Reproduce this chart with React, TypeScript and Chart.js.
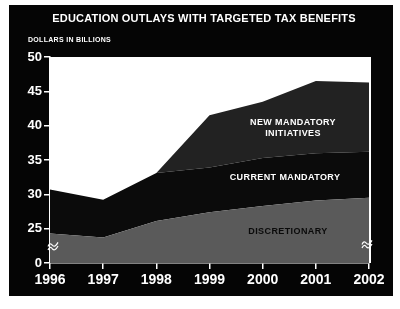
import React, { useEffect, useRef } from "react";
import Chart from "chart.js/auto";

const years = ["1996", "1997", "1998", "1999", "2000", "2001", "2002"];
const discretionary = [24.3, 23.7, 26.1, 27.4, 28.3, 29.1, 29.5];
const currentMandatory = [6.4, 5.5, 7.0, 6.5, 7.0, 6.9, 6.7];
const newMandatory = [0, 0, 0, 7.6, 8.2, 10.5, 10.1];
const yTickValues = [20, 25, 30, 35, 40, 45, 50];
const yTickLabels = ["0", "25", "30", "35", "40", "45", "50"];

const TITLE = "EDUCATION OUTLAYS WITH TARGETED TAX BENEFITS";
const SUBTITLE = "DOLLARS IN BILLIONS";
const FONT = "'Liberation Sans', Arial, Helvetica, sans-serif";

const framePlugin = {
  id: "frame",
  beforeDraw(chart: any) {
    const { ctx, chartArea } = chart;
    ctx.save();
    ctx.fillStyle = "#ffffff";
    ctx.fillRect(0, 0, chart.width, chart.height);
    ctx.fillStyle = "#050505";
    ctx.fillRect(9, 5, 384, 291);
    ctx.fillStyle = "#ffffff";
    ctx.fillRect(chartArea.left, chartArea.top, chartArea.right - chartArea.left + 2, chartArea.bottom - chartArea.top);
    ctx.restore();
  },
  afterDraw(chart: any) {
    const { ctx, chartArea } = chart;
    ctx.save();
    ctx.fillStyle = "#ffffff";
    ctx.textAlign = "center";
    ctx.textBaseline = "middle";
    ctx.font = `bold 11px ${FONT}`;
    (ctx as any).letterSpacing = "0.2px";
    ctx.fillText(TITLE, 204, 19);
    ctx.font = `bold 7px ${FONT}`;
    (ctx as any).letterSpacing = "0.3px";
    ctx.textAlign = "left";
    ctx.fillText(SUBTITLE, 28, 40);

    (ctx as any).letterSpacing = "0.4px";
    ctx.textAlign = "center";
    ctx.font = `bold 9px ${FONT}`;
    ctx.fillStyle = "#ffffff";
    ctx.fillText("NEW MANDATORY", 293, 123);
    ctx.fillText("INITIATIVES", 293, 133.5);
    ctx.fillText("CURRENT MANDATORY", 285, 178);
    ctx.fillStyle = "#0a0a0a";
    ctx.fillText("DISCRETIONARY", 288, 232);

    // axis break marks
    const yBreak = chart.scales.y.getPixelForValue(22.3);
    const drawBreak = (x: number, y: number) => {
      ctx.strokeStyle = "#ffffff";
      ctx.lineWidth = 1.2;
      for (const dy of [-1.8, 1.8]) {
        ctx.beginPath();
        ctx.moveTo(x - 5, y + dy + 1);
        ctx.quadraticCurveTo(x - 3, y + dy - 3.5, x - 0.5, y + dy);
        ctx.quadraticCurveTo(x + 2, y + dy + 2.5, x + 5, y + dy - 3);
        ctx.stroke();
      }
    };
    drawBreak(chartArea.left + 3, yBreak);
    drawBreak(chartArea.right - 2, yBreak - 2);
    ctx.restore();
  },
};

export default function App() {
  const ref = useRef<HTMLCanvasElement>(null);
  useEffect(() => {
    if (!ref.current) return;
    const chart = new Chart(ref.current, {
      type: "line",
      data: {
        labels: years,
        datasets: [
          {
            label: "Discretionary",
            data: discretionary,
            backgroundColor: "#5a5a5a",
            borderWidth: 0,
            pointRadius: 0,
            fill: "origin",
          },
          {
            label: "Current Mandatory",
            data: currentMandatory,
            backgroundColor: "#0b0b0b",
            borderWidth: 0,
            pointRadius: 0,
            fill: "-1",
          },
          {
            label: "New Mandatory Initiatives",
            data: newMandatory,
            backgroundColor: "#222222",
            borderWidth: 0,
            pointRadius: 0,
            fill: "-1",
          },
        ],
      },
      options: {
        responsive: false,
        animation: false,
        layout: { padding: { left: 0, top: 57, right: 31, bottom: 0 } },
        plugins: {
          legend: { display: false },
          tooltip: { enabled: false },
          title: { display: false },
        },
        elements: { line: { tension: 0 } },
        scales: {
          x: {
            offset: false,
            grid: {
              display: true,
              drawOnChartArea: false,
              drawTicks: true,
              tickLength: 6,
              color: "#ffffff",
              tickColor: "#ffffff",
              lineWidth: 1.5,
            },
            border: { display: true, color: "#ffffff", width: 1.5 },
            ticks: {
              color: "#ffffff",
              font: { family: FONT, size: 14, weight: "bold" },
              padding: 3,
              maxRotation: 0,
              autoSkip: false,
            },
            afterFit(scale: any) {
              scale.height = 46;
            },
          },
          y: {
            stacked: true,
            min: 20,
            max: 50,
            afterBuildTicks(scale: any) {
              scale.ticks = yTickValues.map((v) => ({ value: v }));
            },
            grid: {
              display: true,
              drawOnChartArea: false,
              drawTicks: true,
              tickLength: 6,
              color: "#ffffff",
              tickColor: "#ffffff",
              lineWidth: 1.5,
            },
            border: { display: true, color: "#ffffff", width: 1.5 },
            ticks: {
              color: "#ffffff",
              font: { family: FONT, size: 13, weight: "bold" },
              padding: 2,
              callback: (v: any) => {
                const i = yTickValues.indexOf(Number(v));
                return i >= 0 ? yTickLabels[i] : "";
              },
            },
            afterFit(scale: any) {
              scale.width = 50;
            },
          },
        },
      },
      plugins: [framePlugin],
    });
    return () => chart.destroy();
  }, []);
  return (
    <div style={{ position: "absolute", left: 0, top: 0, width: 400, height: 309, background: "#fff" }}>
      <canvas ref={ref} width={400} height={309} style={{ display: "block" }} />
    </div>
  );
}
